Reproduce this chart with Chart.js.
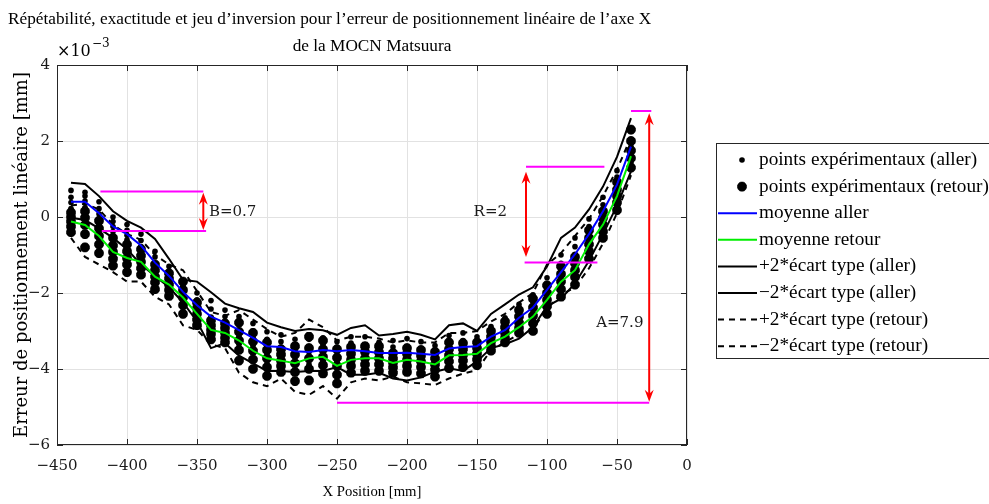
<!DOCTYPE html>
<html>
<head>
<meta charset="utf-8">
<script src="https://cdn.jsdelivr.net/npm/chart.js@4.4.1/dist/chart.umd.min.js"></script>
<style>
  html, body { margin: 0; padding: 0; background: #fff; }
  #wrap { width: 989px; height: 504px; position: relative; }
</style>
</head>
<body>
<div id="wrap"><canvas id="chart" width="989" height="504"></canvas></div>
<script>
// positions (mm) and errors (x1e-3 mm)
const xPos = [-440, -430, -420, -410, -400, -390, -380, -370, -360, -350, -340, -330, -320, -310, -300, -290, -280, -270, -260, -250, -240,
  -230, -220, -210, -200, -190, -180, -170, -160, -150, -140, -130, -120, -110, -100, -90, -80, -70, -60, -50, -40];

const meanAller = [0.40, 0.40, 0.10, -0.25, -0.45, -0.75, -1.20, -1.55, -1.97, -2.32, -2.62, -2.78, -2.98, -3.18, -3.40, -3.42, -3.53, -3.55, -3.50, -3.53, -3.50,
  -3.53, -3.58, -3.58, -3.57, -3.60, -3.63, -3.46, -3.42, -3.40, -3.15, -2.98, -2.65, -2.38, -1.92, -1.45, -0.98, -0.45, 0.15, 0.85, 1.85];
const meanRetour = [-0.12, -0.21, -0.50, -0.92, -1.08, -1.18, -1.57, -1.78, -2.12, -2.55, -2.97, -3.05, -3.25, -3.52, -3.72, -3.78, -3.85, -3.72, -3.68, -3.92, -3.76,
  -3.72, -3.72, -3.84, -3.76, -3.80, -3.88, -3.64, -3.63, -3.60, -3.32, -3.15, -2.90, -2.62, -2.18, -1.70, -1.40, -0.72, -0.20, 0.55, 1.60];
const upperAller = [0.90, 0.87, 0.55, 0.15, -0.10, -0.28, -0.58, -1.10, -1.65, -1.70, -1.98, -2.28, -2.40, -2.50, -2.78, -2.90, -3.00, -2.95, -2.98, -3.10, -2.92,
  -2.85, -3.12, -3.08, -3.02, -3.10, -3.22, -2.85, -2.80, -3.00, -2.55, -2.30, -2.04, -1.85, -1.30, -0.55, -0.28, 0.20, 0.80, 1.58, 2.60];
const lowerAller = [-0.02, -0.08, -0.30, -0.55, -0.85, -1.25, -1.55, -1.85, -2.25, -2.75, -3.45, -3.32, -3.65, -3.85, -4.05, -4.05, -4.08, -4.05, -4.05, -3.95, -4.15,
  -4.15, -4.10, -4.25, -4.30, -4.22, -4.07, -3.98, -4.05, -3.80, -3.45, -3.35, -3.20, -2.90, -2.35, -2.15, -1.75, -1.15, -0.45, 0.30, 1.20];
const upperRetour = [0.30, 0.35, 0.20, -0.20, -0.45, -0.60, -1.00, -1.25, -1.40, -1.95, -2.50, -2.60, -2.45, -2.70, -2.95, -3.15, -3.05, -2.70, -2.90, -3.25, -3.15,
  -3.15, -3.20, -3.30, -3.25, -3.30, -3.30, -3.05, -3.05, -3.00, -2.75, -2.55, -2.25, -2.00, -1.25, -0.95, -0.50, -0.05, 0.55, 1.25, 2.10];
const lowerRetour = [-0.55, -1.05, -1.25, -1.45, -1.70, -1.70, -2.10, -2.30, -2.85, -2.97, -3.35, -3.45, -4.10, -4.35, -4.45, -4.25, -4.60, -4.68, -4.45, -4.78, -4.35,
  -4.25, -4.30, -4.20, -4.35, -4.38, -4.42, -4.25, -4.12, -4.03, -3.50, -3.30, -3.08, -2.95, -2.40, -2.05, -1.85, -1.35, -0.70, 0.10, 1.10];

const allerRuns = [
  [0.70, 0.65, 0.40, 0.00, -0.20, -0.45, -0.90, -1.30, -1.78, -2.00, -2.20, -2.45, -2.62, -2.80, -3.02, -3.10, -3.22, -3.22, -3.18, -3.28, -3.15,
    -3.15, -3.30, -3.25, -3.20, -3.28, -3.38, -3.12, -3.05, -3.15, -2.88, -2.65, -2.30, -2.05, -1.60, -1.00, -0.55, -0.05, 0.52, 1.22, 2.25],
  [0.52, 0.55, 0.22, -0.12, -0.35, -0.62, -1.05, -1.45, -1.88, -2.18, -2.42, -2.62, -2.80, -3.00, -3.22, -3.28, -3.38, -3.40, -3.35, -3.42, -3.32,
    -3.35, -3.45, -3.42, -3.40, -3.45, -3.52, -3.30, -3.25, -3.28, -3.02, -2.82, -2.48, -2.22, -1.78, -1.22, -0.78, -0.25, 0.32, 1.05, 2.05],
  [0.38, 0.42, 0.08, -0.25, -0.48, -0.78, -1.22, -1.57, -1.98, -2.33, -2.63, -2.80, -2.98, -3.18, -3.40, -3.42, -3.53, -3.55, -3.50, -3.53, -3.50,
    -3.53, -3.58, -3.58, -3.57, -3.60, -3.63, -3.46, -3.42, -3.40, -3.15, -2.98, -2.65, -2.38, -1.92, -1.45, -0.98, -0.45, 0.15, 0.85, 1.85],
  [0.22, 0.25, -0.05, -0.38, -0.60, -0.92, -1.35, -1.68, -2.06, -2.48, -2.82, -2.95, -3.15, -3.38, -3.58, -3.58, -3.68, -3.70, -3.65, -3.65, -3.68,
    -3.72, -3.72, -3.75, -3.75, -3.75, -3.75, -3.62, -3.60, -3.52, -3.28, -3.12, -2.82, -2.55, -2.08, -1.68, -1.20, -0.65, -0.02, 0.68, 1.65],
  [0.12, 0.10, -0.20, -0.50, -0.72, -1.05, -1.48, -1.78, -2.15, -2.62, -3.05, -3.10, -3.35, -3.58, -3.78, -3.75, -3.85, -3.88, -3.82, -3.78, -3.88,
    -3.92, -3.88, -3.92, -3.95, -3.92, -3.88, -3.80, -3.80, -3.65, -3.42, -3.30, -3.00, -2.72, -2.25, -1.92, -1.42, -0.85, -0.20, 0.48, 1.45]
];
const retourRuns = [
  [0.12, 0.15, -0.10, -0.55, -0.72, -0.85, -1.25, -1.48, -1.70, -2.25, -2.72, -2.80, -2.78, -3.05, -3.30, -3.48, -3.40, -3.15, -3.25, -3.48, -3.42,
    -3.40, -3.40, -3.58, -3.45, -3.50, -3.55, -3.30, -3.32, -3.30, -3.00, -2.75, -2.45, -2.15, -1.80, -1.30, -1.05, -0.35, 0.15, 0.92, 2.30],
  [0.00, -0.02, -0.30, -0.75, -0.90, -1.02, -1.40, -1.62, -1.92, -2.40, -2.85, -2.92, -3.02, -3.28, -3.50, -3.62, -3.62, -3.45, -3.48, -3.70, -3.60,
    -3.55, -3.56, -3.72, -3.60, -3.65, -3.72, -3.48, -3.48, -3.45, -3.15, -2.90, -2.62, -2.38, -2.00, -1.50, -1.22, -0.55, -0.02, 0.72, 2.00],
  [-0.12, -0.21, -0.50, -0.92, -1.08, -1.18, -1.57, -1.78, -2.12, -2.55, -2.97, -3.05, -3.25, -3.52, -3.72, -3.78, -3.85, -3.72, -3.68, -3.92, -3.76,
    -3.72, -3.72, -3.84, -3.76, -3.80, -3.88, -3.64, -3.63, -3.60, -3.28, -3.05, -2.78, -2.60, -2.18, -1.70, -1.40, -0.72, -0.20, 0.55, 1.75],
  [-0.25, -0.45, -0.72, -1.10, -1.25, -1.35, -1.72, -1.92, -2.32, -2.70, -3.08, -3.18, -3.50, -3.75, -3.95, -3.92, -4.08, -4.00, -3.90, -4.15, -3.92,
    -3.88, -3.88, -3.96, -3.92, -3.95, -4.02, -3.80, -3.78, -3.75, -3.40, -3.18, -2.92, -2.80, -2.35, -1.90, -1.58, -0.90, -0.38, 0.38, 1.55],
  [-0.40, -0.80, -0.95, -1.28, -1.45, -1.52, -1.90, -2.08, -2.55, -2.85, -3.22, -3.30, -3.78, -4.00, -4.18, -4.08, -4.32, -4.30, -4.12, -4.38, -4.10,
    -4.05, -4.05, -4.10, -4.08, -4.12, -4.20, -3.98, -3.95, -3.90, -3.52, -3.30, -3.05, -3.00, -2.55, -2.10, -1.78, -1.10, -0.55, 0.18, 1.30]
];

// annotations (same units as the axes)
const markerLines = [
  { x1: -419, x2: -345.5, y: 0.67 }, { x1: -418, x2: -343.5, y: -0.37 },
  { x1: -115, x2: -59, y: 1.32 }, { x1: -116, x2: -64, y: -1.20 },
  { x1: -40, x2: -25.5, y: 2.79 }, { x1: -250, x2: -27, y: -4.89 }
];
const markerArrows = [
  { x: -345.5, y1: 0.64, y2: -0.34 },
  { x: -115, y1: 1.19, y2: -1.05 },
  { x: -27, y1: 2.73, y2: -4.86 }
];
const markerTexts = [
  { text: 'B=0.7', x: -341.5, y: 0.14, align: 'left' },
  { text: 'R=2', x: -140.5, y: 0.14, align: 'center' },
  { text: 'A=7.9', x: -48, y: -2.80, align: 'center' }
];

const SERIF = '"DejaVu Serif", serif';
const TEXT = '"Liberation Serif", "DejaVu Serif", serif';
const minus = (v) => String(v).replace('-', '\u2212');
const line = (arr) => arr.map((v, i) => ({ x: xPos[i], y: v }));
const pts = (runs) => runs.flatMap((run) => run.map((v, i) => ({ x: xPos[i], y: v })));

const fitSize = (ctx, text, width, family) => {
  ctx.font = `100px ${family || TEXT}`;
  return 100 * width / ctx.measureText(text).width;
};

const lineSet = (label, data, color, dash) => ({
  label, data: line(data), borderColor: color, borderWidth: 2, borderDash: dash || [],
  pointRadius: 0, showLine: true, tension: 0, fill: false, order: 1
});

const decor = {
  id: 'decor',
  afterDatasetsDraw(chart) {
    const { ctx, chartArea: a, scales: { x, y } } = chart;
    ctx.save();

    // axes box and inner ticks
    ctx.strokeStyle = '#262626';
    ctx.lineWidth = 1;
    ctx.strokeRect(a.left + 0.5, a.top + 0.5, a.right - a.left - 1, a.bottom - a.top - 1);
    ctx.beginPath();
    x.ticks.forEach((t) => {
      const px = Math.round(x.getPixelForValue(t.value)) + 0.5;
      ctx.moveTo(px, a.bottom); ctx.lineTo(px, a.bottom - 6);
      ctx.moveTo(px, a.top); ctx.lineTo(px, a.top + 6);
    });
    y.ticks.forEach((t) => {
      const py = Math.round(y.getPixelForValue(t.value)) + 0.5;
      ctx.moveTo(a.left, py); ctx.lineTo(a.left + 6, py);
      ctx.moveTo(a.right, py); ctx.lineTo(a.right - 6, py);
    });
    ctx.stroke();

    // magenta marks
    ctx.strokeStyle = '#ff00ff';
    ctx.lineWidth = 2;
    markerLines.forEach((m) => {
      const py = y.getPixelForValue(m.y);
      ctx.beginPath();
      ctx.moveTo(x.getPixelForValue(m.x1), py);
      ctx.lineTo(x.getPixelForValue(m.x2), py);
      ctx.stroke();
    });

    // red double arrows
    ctx.strokeStyle = '#ff0000';
    ctx.fillStyle = '#ff0000';
    markerArrows.forEach((m) => {
      const px = x.getPixelForValue(m.x);
      const p1 = y.getPixelForValue(m.y1);
      const p2 = y.getPixelForValue(m.y2);
      ctx.beginPath();
      ctx.moveTo(px, p1 + 6); ctx.lineTo(px, p2 - 6);
      ctx.stroke();
      [[p1, 1], [p2, -1]].forEach(([p, dir]) => {
        ctx.beginPath();
        ctx.moveTo(px, p);
        ctx.lineTo(px - 4.5, p + dir * 12);
        ctx.lineTo(px, p + dir * 8);
        ctx.lineTo(px + 4.5, p + dir * 12);
        ctx.closePath();
        ctx.fill();
      });
    });

    ctx.fillStyle = '#1a1a1a';
    ctx.textBaseline = 'middle';
    ctx.font = `15px ${SERIF}`;
    markerTexts.forEach((m) => {
      ctx.textAlign = m.align;
      ctx.fillText(m.text, x.getPixelForValue(m.x), y.getPixelForValue(m.y));
    });
    ctx.restore();
  },
  afterDraw(chart) {
    const { ctx, chartArea: a } = chart;
    ctx.save();
    ctx.fillStyle = '#000';
    ctx.textBaseline = 'middle';

    // title
    const t1 = 'Répétabilité, exactitude et jeu d\u2019inversion pour l\u2019erreur de positionnement linéaire de l\u2019axe X';
    const ts = fitSize(ctx, t1, 644);
    ctx.font = `${ts}px ${TEXT}`;
    ctx.textAlign = 'left';
    ctx.fillText(t1, 8, 19);
    ctx.textAlign = 'center';
    ctx.fillText('de la MOCN Matsuura', (a.left + a.right) / 2, 46);

    // axis titles
    const xl = 'X Position [mm]';
    ctx.font = `${fitSize(ctx, xl, 99)}px ${TEXT}`;
    ctx.fillText(xl, (a.left + a.right) / 2, 492);
    const yl = 'Erreur de positionnement linéaire [mm]';
    ctx.font = `${fitSize(ctx, yl, 366, SERIF)}px ${SERIF}`;
    ctx.save();
    ctx.translate(22, 255);
    ctx.rotate(-Math.PI / 2);
    ctx.fillText(yl, 0, 0);
    ctx.restore();

    // exponent
    ctx.textAlign = 'left';
    ctx.font = `16px ${SERIF}`;
    ctx.fillText('\u00d710', 57, 52);
    ctx.font = `12px ${SERIF}`;
    ctx.fillText('\u22123', 92, 44);

    // legend
    const lx = 716, ly = 143, step = 26.6;
    ctx.strokeStyle = '#262626';
    ctx.lineWidth = 1;
    ctx.strokeRect(lx + 0.5, ly + 0.5, 290, 215);
    const ls = fitSize(ctx, 'points expérimentaux (retour)', 230);
    chart.data.datasets.forEach((ds, i) => {
      const cy = ly + 17 + i * step;
      if (ds.showLine) {
        ctx.strokeStyle = ds.borderColor;
        ctx.lineWidth = 2;
        ctx.setLineDash(ds.borderDash);
        ctx.beginPath();
        ctx.moveTo(lx + 2, cy); ctx.lineTo(lx + 41, cy);
        ctx.stroke();
        ctx.setLineDash([]);
      } else {
        ctx.fillStyle = '#000';
        ctx.strokeStyle = '#000';
        ctx.lineWidth = ds.borderWidth || 1;
        Chart.helpers.drawPoint(ctx, {
          pointStyle: ds.pointStyle, radius: ds.pointRadius, borderWidth: ds.borderWidth, rotation: 0
        }, lx + 26, cy);
      }
      ctx.fillStyle = '#000';
      ctx.font = `${ls}px ${TEXT}`;
      ctx.fillText(ds.label, lx + 43, cy);
    });
    ctx.restore();
  }
};

new Chart(document.getElementById('chart'), {
  type: 'scatter',
  data: {
    datasets: [
      { label: 'points expérimentaux (aller)', data: pts(allerRuns), pointStyle: 'circle', pointRadius: 2.8,
        backgroundColor: '#000', borderColor: '#000', borderWidth: 0, showLine: false, order: 10 },
      { label: 'points expérimentaux (retour)', data: pts(retourRuns), pointStyle: 'star', pointRadius: 4.8,
        backgroundColor: '#000', borderColor: '#000', borderWidth: 3.4, showLine: false, order: 9 },
      lineSet('moyenne aller', meanAller, '#0000ff'),
      lineSet('moyenne retour', meanRetour, '#00ee00'),
      lineSet('+2*écart type (aller)', upperAller, '#000'),
      lineSet('\u22122*écart type (aller)', lowerAller, '#000'),
      lineSet('+2*écart type (retour)', upperRetour, '#000', [6, 5]),
      lineSet('\u22122*écart type (retour)', lowerRetour, '#000', [6, 5])
    ]
  },
  options: {
    responsive: false,
    animation: false,
    events: [],
    layout: { padding: { left: 0, top: 65, right: 302, bottom: 0 } },
    plugins: { legend: { display: false }, tooltip: { enabled: false }, title: { display: false } },
    scales: {
      x: {
        type: 'linear', min: -450, max: 0,
        border: { display: false },
        grid: { color: '#e2e2e2', drawTicks: false },
        ticks: { stepSize: 50, padding: 12, color: '#1a1a1a', font: { family: SERIF, size: 15 }, callback: (v) => minus(v) },
        afterFit: (s) => { s.height = 59; }
      },
      y: {
        min: -6, max: 4,
        border: { display: false },
        grid: { color: '#e2e2e2', drawTicks: false },
        ticks: { stepSize: 2, padding: 7, color: '#1a1a1a', font: { family: SERIF, size: 15 }, callback: (v) => minus(v) },
        afterFit: (s) => { s.width = 57; }
      }
    }
  },
  plugins: [decor]
});
</script>
</body>
</html>
